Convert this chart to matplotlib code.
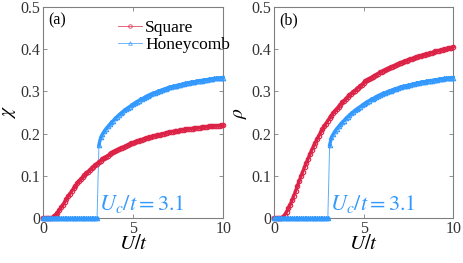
import numpy as np
import matplotlib
matplotlib.use("Agg")
import matplotlib.pyplot as plt
from matplotlib.lines import Line2D

plt.rcParams["font.family"] = ["Liberation Serif", "DejaVu Serif"]
plt.rcParams["mathtext.fontset"] = "stix"

# U/t grid, step 0.1
U = np.round(np.arange(101) * 0.1, 1)

# Square lattice, panel (a) chi
square_chi = [
    0, 0, 0, 0, 0, 0.001, 0.004, 0.008, 0.013, 0.019,
    0.025, 0.031, 0.038, 0.045, 0.052, 0.058, 0.064, 0.070, 0.076, 0.082,
    0.087, 0.092, 0.097, 0.101, 0.106, 0.110, 0.114, 0.118, 0.122, 0.126,
    0.129, 0.133, 0.136, 0.139, 0.142, 0.145, 0.148, 0.151, 0.154, 0.156,
    0.159, 0.161, 0.163, 0.165, 0.167, 0.169, 0.171, 0.173, 0.175, 0.177,
    0.179, 0.180, 0.182, 0.183, 0.185, 0.186, 0.188, 0.189, 0.190, 0.192,
    0.193, 0.194, 0.195, 0.196, 0.197, 0.198, 0.199, 0.200, 0.201, 0.202,
    0.203, 0.204, 0.205, 0.206, 0.206, 0.207, 0.208, 0.209, 0.209, 0.210,
    0.211, 0.211, 0.212, 0.212, 0.213, 0.213, 0.214, 0.214, 0.215, 0.215,
    0.216, 0.216, 0.217, 0.217, 0.218, 0.218, 0.218, 0.219, 0.219, 0.220,
    0.220,
]

# Square lattice, panel (b) rho
square_rho = [
    0, 0, 0, 0, 0, 0.003, 0.008, 0.015, 0.023, 0.032,
    0.042, 0.053, 0.064, 0.076, 0.088, 0.099, 0.110, 0.121, 0.131, 0.141,
    0.151, 0.161, 0.170, 0.179, 0.187, 0.195, 0.203, 0.210, 0.217, 0.224,
    0.231, 0.237, 0.243, 0.249, 0.254, 0.259, 0.264, 0.269, 0.274, 0.278,
    0.283, 0.287, 0.291, 0.295, 0.299, 0.302, 0.306, 0.309, 0.313, 0.316,
    0.321, 0.324, 0.327, 0.330, 0.332, 0.335, 0.337, 0.340, 0.342, 0.345,
    0.347, 0.349, 0.351, 0.353, 0.355, 0.357, 0.359, 0.361, 0.363, 0.365,
    0.367, 0.368, 0.370, 0.372, 0.373, 0.375, 0.376, 0.378, 0.379, 0.381,
    0.382, 0.383, 0.385, 0.386, 0.387, 0.389, 0.390, 0.391, 0.392, 0.393,
    0.395, 0.396, 0.397, 0.398, 0.399, 0.400, 0.401, 0.402, 0.403, 0.404,
    0.406,
]

# Honeycomb lattice (same curve in both panels)
honeycomb = [
    0.001, 0.001, 0.001, 0.001, 0.001, 0.001, 0.001, 0.001, 0.001, 0.001,
    0.001, 0.001, 0.001, 0.001, 0.001, 0.001, 0.001, 0.001, 0.001, 0.001,
    0.001, 0.001, 0.001, 0.001, 0.001, 0.001, 0.001, 0.001, 0.001, 0.001,
    0.001, 0.173, 0.191, 0.199, 0.206, 0.212, 0.217, 0.222, 0.227, 0.231,
    0.236, 0.240, 0.244, 0.248, 0.251, 0.255, 0.258, 0.261, 0.264, 0.267,
    0.270, 0.273, 0.276, 0.278, 0.281, 0.283, 0.285, 0.288, 0.290, 0.292,
    0.294, 0.296, 0.297, 0.299, 0.301, 0.302, 0.304, 0.305, 0.307, 0.308,
    0.310, 0.311, 0.312, 0.313, 0.314, 0.315, 0.316, 0.317, 0.318, 0.319,
    0.320, 0.321, 0.322, 0.323, 0.323, 0.324, 0.325, 0.326, 0.326, 0.327,
    0.328, 0.328, 0.329, 0.330, 0.330, 0.331, 0.331, 0.332, 0.332, 0.333,
    0.333,
]

U_c = 3.1
jump = 31  # first index of the ordered honeycomb phase (U = U_c)
panels = [("(a)", r"$\chi$", square_chi), ("(b)", r"$\rho$", square_rho)]
xticks = [0, 5, 10]
yticks = [0, 0.1, 0.2, 0.3, 0.4, 0.5]
ytick_labels = ["0", "0.1", "0.2", "0.3", "0.4", "0.5"]

red = "#DC2347"
blue = "#3399FF"
mk = dict(ms=3.2, mfc="none", mew=0.8, clip_on=False, zorder=3)

fig = plt.figure(figsize=(4.63, 2.63), dpi=100)
axes = [fig.add_axes([0.093, 0.171, 0.389, 0.802]),
        fig.add_axes([0.592, 0.171, 0.387, 0.802])]

for ax, (tag, ylab, sq) in zip(axes, panels):
    ax.plot(U, sq, color=red, lw=2.4, marker="o", **mk)
    ax.plot(U[:jump], honeycomb[:jump], color=blue, lw=2.4, marker="^", **mk)
    ax.plot(U[jump:], honeycomb[jump:], color=blue, lw=2.4, marker="^", **mk)
    # thin vertical jump at U_c
    ax.plot(U[jump - 1:jump + 1], honeycomb[jump - 1:jump + 1], color=blue, lw=0.7, alpha=0.8)
    ax.set_xlim(0, 10)
    ax.set_ylim(0, 0.5)
    ax.set_xticks(xticks)
    ax.set_xticklabels([str(t) for t in xticks])
    ax.set_yticks(yticks)
    ax.set_yticklabels(ytick_labels)
    ax.tick_params(direction="in", top=True, right=True, length=3, width=0.6,
                   labelsize=11.5, colors="#808080", labelcolor="#333333", pad=2)
    for s in ax.spines.values():
        s.set_color("#808080")
        s.set_linewidth(0.8)
    ax.set_xlabel(r"$U/t$", fontsize=15, labelpad=-1)
    ax.set_ylabel(ylab, fontsize=14, labelpad=2)
    ax.text(0.03, 0.975, tag, transform=ax.transAxes, va="top", ha="left", fontsize=11.5)
    ax.text(U_c, 0.006, r"$U_c/t=3.1$", color=blue, fontsize=16, va="bottom", ha="left")

handles = [
    Line2D([], [], color=red, lw=0.7, alpha=0.7, marker="o", ms=2.6, mfc="none", mew=0.7),
    Line2D([], [], color=blue, lw=0.7, alpha=0.7, marker="^", ms=2.6, mfc="none", mew=0.7),
]
axes[0].legend(handles, ["Square", "Honeycomb"], loc="upper left", bbox_to_anchor=(0.36, 0.99),
               frameon=False, fontsize=12.5, handlelength=1.35, handletextpad=0.2,
               labelspacing=0.05, numpoints=1, borderaxespad=0.2)

fig.savefig("out.png", dpi=100)
